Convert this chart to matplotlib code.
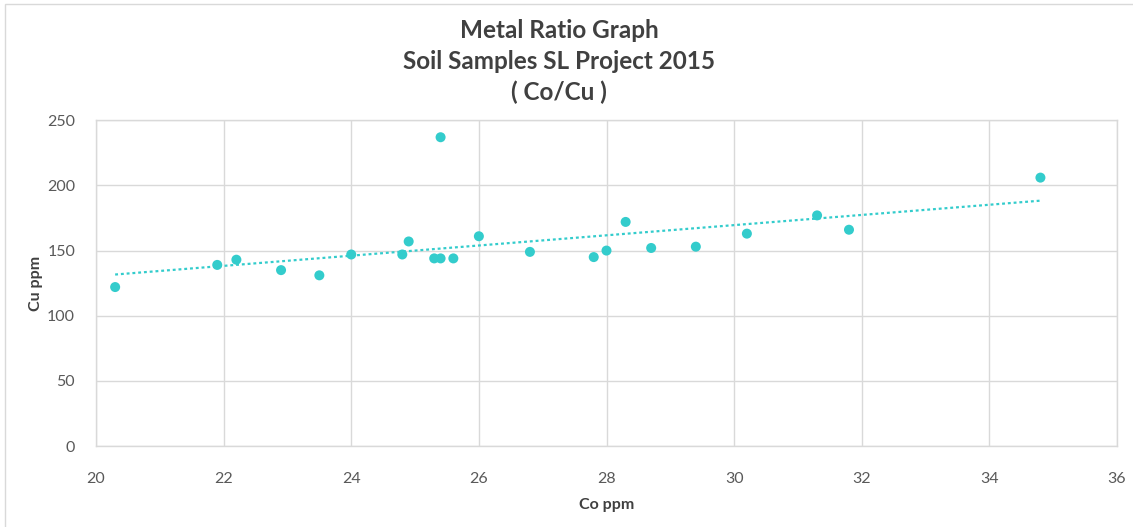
import numpy as np
import matplotlib
matplotlib.use("Agg")
import matplotlib.pyplot as plt
from matplotlib.patches import Rectangle

# Soil sample assays: cobalt vs copper (ppm)
co_ppm = [20.3, 21.9, 22.2, 22.9, 23.5, 24.0, 24.8, 24.9, 25.3, 25.4, 25.4, 25.6,
          26.0, 26.8, 27.8, 28.0, 28.3, 28.7, 29.4, 30.2, 31.3, 31.8, 34.8]
cu_ppm = [122, 139, 143, 135, 131, 147, 147, 157, 144, 144, 237, 144,
          161, 149, 145, 150, 172, 152, 153, 163, 177, 166, 206]

x_ticks = [20, 22, 24, 26, 28, 30, 32, 34, 36]
y_ticks = [0, 50, 100, 150, 200, 250]

title_lines = ["Metal Ratio Graph", "Soil Samples SL Project 2015", "( Co/Cu )"]

plt.rcParams['font.family'] = ['Lato', 'DejaVu Sans']

teal = '#33cccc'
grid_c = '#d9d9d9'
text_c = '#595959'

fig = plt.figure(figsize=(11.33, 5.27), dpi=100)
fig.patches.append(Rectangle((5 / 1133, -0.01), 1.2, 1 - 4 / 527 + 0.01,
                             transform=fig.transFigure, fill=False,
                             edgecolor=grid_c, linewidth=1.0))

ax = fig.add_axes([96 / 1133, 81 / 527, (1117 - 96) / 1133, (446 - 120.3) / 527])

x = np.array(co_ppm)
y = np.array(cu_ppm)
ax.scatter(x, y, s=52, color=teal, edgecolors='none', zorder=3)

# linear trend line over the data range
slope, intercept = np.polyfit(x, y, 1)
xt = np.array([x.min(), x.max()])
ax.plot(xt, slope * xt + intercept, color=teal, linewidth=1.6,
        dashes=(1.3, 1.3), zorder=2)

ax.set_xlim(20, 36)
ax.set_ylim(0, 250)
ax.set_xticks(x_ticks)
ax.set_yticks(y_ticks)
ax.grid(True, color=grid_c, linewidth=1.0)
ax.set_axisbelow(True)
for sp in ax.spines.values():
    sp.set_color(grid_c)
    sp.set_linewidth(1.0)
ax.tick_params(length=0, colors=text_c, labelsize=11.5)
ax.tick_params(axis='x', pad=19)
ax.tick_params(axis='y', pad=15)

ax.set_xlabel("Co ppm", fontsize=11.5, fontweight='bold', color='#404040', labelpad=8)
ax.set_ylabel("Cu ppm", fontsize=11.5, fontweight='bold', color='#404040', labelpad=3)

for i, line in enumerate(title_lines):
    fig.text(559 / 1133, 1 - (31 + i * 30.5) / 527, line, ha='center', va='center',
             fontsize=17.5, fontweight='bold', color='#404040')

fig.savefig("out.png", dpi=100)
